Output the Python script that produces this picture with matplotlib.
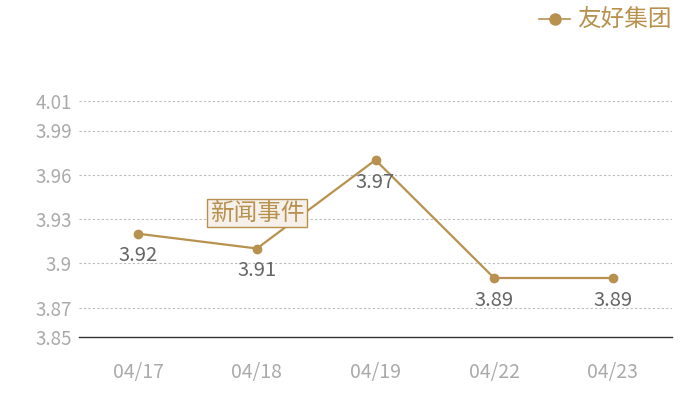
import matplotlib
matplotlib.use("Agg")
import matplotlib.pyplot as plt
from matplotlib.lines import Line2D

plt.rcParams['font.family'] = ['Noto Sans CJK SC', 'DejaVu Sans']

dates = ["04/17", "04/18", "04/19", "04/22", "04/23"]
values = [3.92, 3.91, 3.97, 3.89, 3.89]
yticks = [3.85, 3.87, 3.9, 3.93, 3.96, 3.99, 4.01]
ytick_labels = ["3.85", "3.87", "3.9", "3.93", "3.96", "3.99", "4.01"]
series_name = "友好集团"
event_label = "新闻事件"
event_index = 1
event_value = 3.934

gold = "#b8914f"
fig = plt.figure(figsize=(7, 4), dpi=100)
ax = fig.add_axes([79/700, 63/400, (672-79)/700, (337-101)/400])

x = list(range(len(dates)))
ax.plot(x, values, color=gold, lw=1.6, marker='o', ms=6, zorder=3)
for xi, v in zip(x, values):
    ax.annotate(f"{v:.2f}", (xi, v), xytext=(0, -16), textcoords='offset points',
                ha='center', va='center', fontsize=14.5, color='#666666', zorder=4)

ax.text(event_index, event_value, event_label, ha='center', va='center', fontsize=17,
        color=gold, zorder=5,
        bbox=dict(boxstyle='square,pad=0.1', fc='#f5f0e9', ec=gold, lw=1))

ax.set_xlim(-0.5, len(dates) - 0.5)
ax.set_ylim(3.85, 4.01)
ax.set_xticks(x)
ax.set_xticklabels(dates)
ax.set_yticks(yticks)
ax.set_yticklabels(ytick_labels)
ax.tick_params(axis='both', length=0, labelcolor='#aaaaaa')
ax.tick_params(axis='x', pad=18, labelsize=14)
ax.tick_params(axis='y', pad=5, labelsize=13.5)
for s in ['top', 'right', 'left']:
    ax.spines[s].set_visible(False)
ax.spines['bottom'].set_color('#333333')
ax.spines['bottom'].set_linewidth(1)
for t in yticks[1:]:
    ax.axhline(t, color='#bbbbbb', lw=0.8, ls=(0, (2, 2)), zorder=1)

handle = Line2D([], [], color=gold, lw=1.2, marker='o', ms=8)
fig.legend([handle], [series_name], loc='upper right', bbox_to_anchor=(0.99, 1.03),
           frameon=False, fontsize=17, labelcolor=gold, handlelength=1.3,
           handletextpad=0.3)

fig.savefig("out.png", dpi=100)
